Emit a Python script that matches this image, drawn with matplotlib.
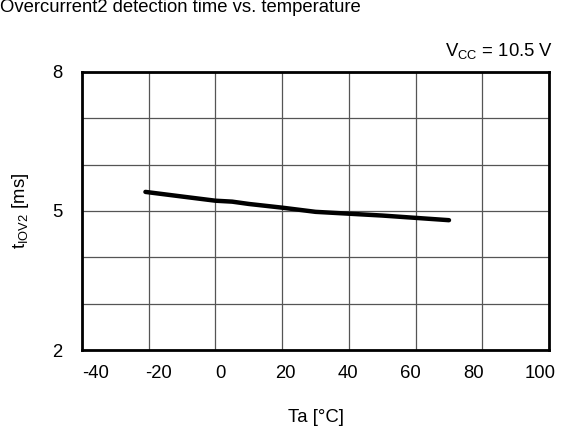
import matplotlib
matplotlib.use("Agg")
import matplotlib.pyplot as plt
from matplotlib.transforms import ScaledTranslation

plt.rcParams['font.family'] = ['Liberation Sans', 'DejaVu Sans']
plt.rcParams['mathtext.fontset'] = 'custom'
plt.rcParams['mathtext.rm'] = 'Liberation Sans'
plt.rcParams['mathtext.it'] = 'Liberation Sans'

temp = [-21, -10, 0, 5, 10, 20, 30, 40, 50, 60, 70]
t_iov2 = [5.41, 5.31, 5.22, 5.20, 5.15, 5.07, 4.98, 4.94, 4.90, 4.85, 4.80]

x_ticks = [-40, -20, 0, 20, 40, 60, 80, 100]
y_grid = [2, 3, 4, 5, 6, 7, 8]
y_labels = [2, 5, 8]

# horizontal pixel shift of each x tick label (as in the reference layout)
x_label_shift_px = [14, 9.5, 5, 3, -0.5, -5.5, -9, -8.5]

FS = 13.3

fig = plt.figure(figsize=(5.62, 4.30), dpi=100)
ax = fig.add_axes([0.146, 0.186, 0.831, 0.647])

ax.plot(temp, t_iov2, color='black', lw=3.2, solid_capstyle='round', zorder=3)

ax.set_xlim(-40, 100)
ax.set_ylim(2, 8)
ax.set_xticks(x_ticks)
ax.set_xticklabels([str(v) for v in x_ticks])
ax.set_yticks(y_grid)
ax.set_yticklabels([str(v) if v in y_labels else '' for v in y_grid])
ax.tick_params(axis='x', length=0, labelsize=FS, pad=11)
ax.tick_params(axis='y', length=0, labelsize=FS, pad=14)
ax.grid(True, color='#555555', lw=0.9)
for s in ax.spines.values():
    s.set_linewidth(2)
    s.set_zorder(4)

for lbl, dx in zip(ax.get_xticklabels(), x_label_shift_px):
    lbl.set_transform(lbl.get_transform() + ScaledTranslation(dx / 100, 0, fig.dpi_scale_trans))

ax.set_xlabel('Ta [°C]', fontsize=FS, labelpad=19)
ax.set_ylabel(r'$\rm t_{IOV2}$ [ms]', fontsize=FS, labelpad=15)

ax.text(1.0, 1.04, r'V$_{\rm CC}$ = 10.5 V',
        transform=ax.transAxes + ScaledTranslation(0.04, 0, fig.dpi_scale_trans),
        ha='right', va='bottom', fontsize=FS)
fig.text(0.0, 1 - 12/430, 'Overcurrent2 detection time vs. temperature',
         ha='left', va='baseline', fontsize=FS)

fig.savefig('out.png', dpi=100)
